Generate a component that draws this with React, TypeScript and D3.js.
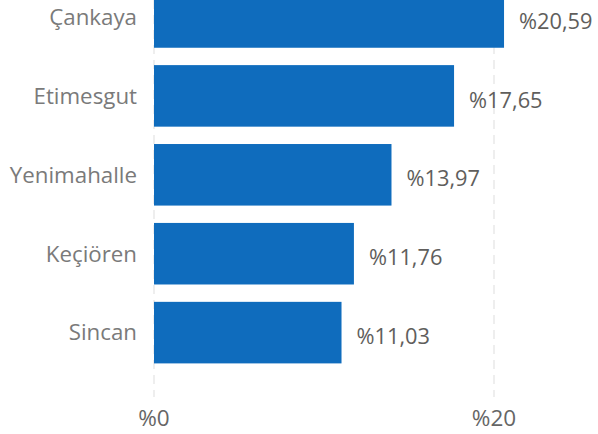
import React from "react";
import * as d3 from "d3";

const categories = ["Çankaya", "Etimesgut", "Yenimahalle", "Keçiören", "Sincan"];
const values = [20.59, 17.65, 13.97, 11.76, 11.03];
const tickValues = [0, 20];

const W = 598;
const H = 434;

export default function App() {
  const x = d3.scaleLinear().domain([0, 20]).range([154, 494]);
  const y = d3
    .scaleBand<string>()
    .domain(categories)
    .range([-13.8, 363.4])
    .paddingInner(0.22)
    .paddingOuter(0);
  const fmt = (v: number) => "%" + v.toFixed(2).replace(".", ",");
  const font = "'Open Sans', 'Noto Sans', sans-serif";
  return (
    <svg
      width={W}
      height={H}
      style={{ position: "absolute", left: 0, top: 0, background: "#fff" }}
      fontFamily={font}
    >
      {tickValues.map((t) => (
        <line
          key={"g" + t}
          x1={x(t)}
          x2={x(t)}
          y1={0}
          y2={397}
          stroke="#eeeeee"
          strokeWidth={2}
          strokeDasharray="9 6"
        />
      ))}
      {categories.map((c, i) => (
        <rect
          key={c}
          x={x(0)}
          y={y(c)!}
          width={x(values[i]) - x(0)}
          height={y.bandwidth()}
          fill="#0F6CBD"
        />
      ))}
      {categories.map((c) => (
        <text
          key={"l" + c}
          x={137}
          y={y(c)! + y.bandwidth() / 2}
          dy="0.35em"
          textAnchor="end"
          fontSize={22.3}
          fill="#7a7a7a"
        >
          {c}
        </text>
      ))}
      {categories.map((c, i) => (
        <text
          key={"v" + c}
          x={x(values[i]) + 15}
          y={y(c)! + y.bandwidth() / 2 + 4}
          dy="0.35em"
          fontSize={21.8}
          fill="#605E5C"
        >
          {fmt(values[i])}
        </text>
      ))}
      {tickValues.map((t) => (
        <text
          key={"t" + t}
          x={x(t)}
          y={418}
          dy="0.35em"
          textAnchor="middle"
          fontSize={22.5}
          fill="#666666"
        >
          {"%" + t}
        </text>
      ))}
    </svg>
  );
}
